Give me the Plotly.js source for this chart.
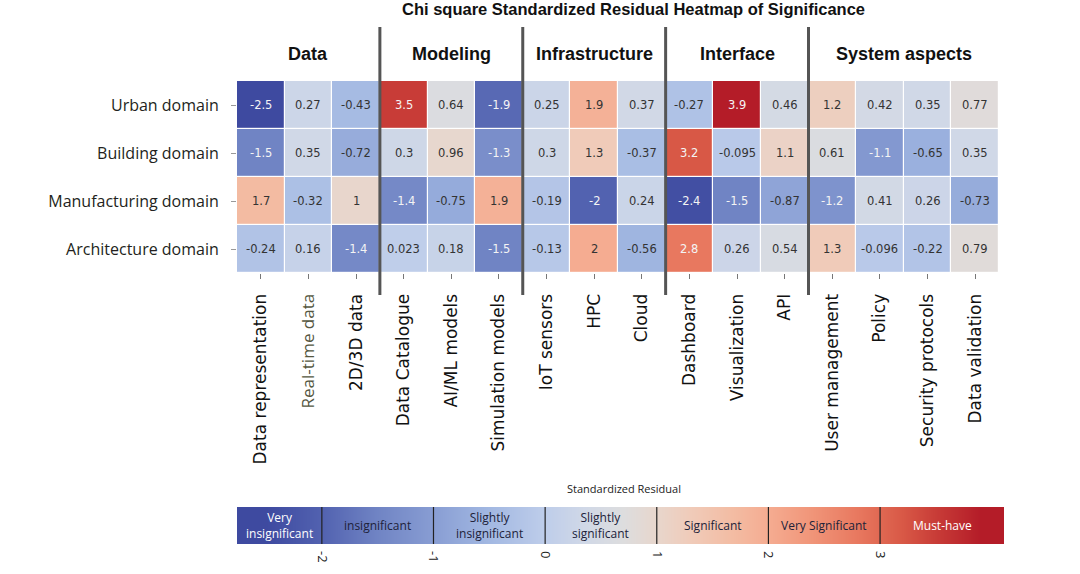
<!DOCTYPE html>
<html><head><meta charset="utf-8">
<script src="https://cdn.plot.ly/plotly-3.0.1.min.js"></script>
<style>html,body{margin:0;padding:0;background:#fff}</style>
</head><body><div id="chart" style="width:1080px;height:574px"></div>
<script>
// ---- data ----
const features = ["Data representation","Real-time data","2D/3D data","Data Catalogue","AI/ML models","Simulation models","IoT sensors","HPC","Cloud","Dashboard","Visualization","API","User management","Policy","Security protocols","Data validation"];
const domains = ["Urban domain","Building domain","Manufacturing domain","Architecture domain"];
const urban = [-2.5,0.27,-0.43,3.5,0.64,-1.9,0.25,1.9,0.37,-0.27,3.9,0.46,1.2,0.42,0.35,0.77];
const building = [-1.5,0.35,-0.72,0.3,0.96,-1.3,0.3,1.3,-0.37,3.2,-0.095,1.1,0.61,-1.1,-0.65,0.35];
const manufacturing = [1.7,-0.32,1,-1.4,-0.75,1.9,-0.19,-2,0.24,-2.4,-1.5,-0.87,-1.2,0.41,0.26,-0.73];
const architecture = [-0.24,0.16,-1.4,0.023,0.18,-1.5,-0.13,2,-0.56,2.8,0.26,0.54,1.3,-0.096,-0.22,0.79];
const groups = ["Data","Modeling","Infrastructure","Interface","System aspects"];
const groupSizes = [3,3,3,3,4];
const cbTicks = [-2,-1,0,1,2,3];
const cbRange = [-2.76,4.11];
const bandLabels = ["Very<br>insignificant","insignificant","Slightly<br>insignificant","Slightly<br>significant","Significant","Very Significant","Must-have"];
const bandWhite = [true,false,false,false,false,false,true];

// ---- styling ----
const rows = [urban, building, manufacturing, architecture];
const allVals = rows.flat();
const zmin = Math.min(...allVals), zmax = Math.max(...allVals);
// muted coolwarm, as printed in the reference
const cw = [[0,'rgb(62,74,160)'],[0.078,'rgb(82,98,176)'],[0.156,'rgb(112,132,196)'],[0.234,'rgb(136,157,211)'],
  [0.3125,'rgb(162,184,226)'],[0.39,'rgb(190,205,234)'],[0.445,'rgb(208,216,231)'],[0.5,'rgb(221,221,222)'],
  [0.547,'rgb(232,214,204)'],[0.594,'rgb(240,203,185)'],[0.656,'rgb(243,187,162)'],[0.703,'rgb(245,172,145)'],
  [0.766,'rgb(240,148,120)'],[0.828,'rgb(232,120,95)'],[0.891,'rgb(216,88,70)'],[0.9375,'rgb(200,60,55)'],[1,'rgb(180,28,40)']];
const W = 1080, H = 574;
const px = v => v / W, py = v => 1 - v / H;

const tickText = features.map(f => f === "Real-time data"
  ? '<span style="font-family:Open Sans;color:#55573f">' + f + '</span>' : f);

const traces = [{
  type: 'heatmap', x: features, y: domains, z: rows,
  colorscale: cw, zmin: zmin, zmax: zmax, showscale: false,
  xgap: 1.2, ygap: 1.2, hoverinfo: 'skip', xaxis: 'x', yaxis: 'y'
}];
const cbStops = [cbRange[0], ...cbTicks, cbRange[1]];
traces.push({
  type: 'heatmap', x: cbStops, y: [0,1], z: [cbStops, cbStops],
  zsmooth: 'best', colorscale: cw, zmin: zmin, zmax: zmax,
  showscale: false, hoverinfo: 'skip', xaxis: 'x2', yaxis: 'y2'
});

const annotations = [];
rows.forEach((r, i) => r.forEach((v, j) => {
  const white = v <= -1.1 || v >= 2.5;
  annotations.push({x: features[j], y: domains[i], xref: 'x', yref: 'y', text: String(v),
    showarrow: false, font: {family: 'DejaVu Sans', size: 11.5, color: white ? '#f4f4f4' : '#333333'}});
}));
// group headers + separators
const shapes = [];
let start = 0;
groups.forEach((g, k) => {
  const center = start + (groupSizes[k] - 1) / 2;
  annotations.push({x: center, y: py(54), xref: 'x', yref: 'paper', text: '<b>' + g + '</b>',
    showarrow: false, yanchor: 'middle', font: {family: 'Liberation Sans', size: 18, color: '#111'}});
  start += groupSizes[k];
  if (k < groups.length - 1) {
    shapes.push({type: 'line', xref: 'x', yref: 'paper', x0: start - 0.5, x1: start - 0.5,
      y0: py(295), y1: py(27), line: {color: '#555', width: 3}, layer: 'above'});
  }
});
// title
annotations.push({x: px(633), y: py(9), xref: 'paper', yref: 'paper', text: '<b>Chi square Standardized Residual Heatmap of Significance</b>',
  showarrow: false, yanchor: 'middle', font: {family: 'Liberation Sans', size: 16.5, color: '#111'}});
// colorbar title
annotations.push({x: px(624), y: py(488), xref: 'paper', yref: 'paper', text: 'Standardized Residual',
  showarrow: false, yanchor: 'middle', font: {family: 'Open Sans', size: 11, color: '#222'}});
// band labels and dividers
const edges = [cbRange[0], ...cbTicks, cbRange[1]];
bandLabels.forEach((t, k) => {
  annotations.push({x: (edges[k] + edges[k+1]) / 2, y: 0.5, xref: 'x2', yref: 'y2', text: t,
    showarrow: false, font: {family: 'Open Sans', size: 12, color: bandWhite[k] ? '#ffffff' : '#20223a'}});
});
cbTicks.forEach(v => shapes.push({type: 'line', xref: 'x2', yref: 'y2', x0: v, x1: v, y0: -0.17, y1: 1.05,
  line: {color: '#222', width: 1.2}, layer: 'above'}));

const layout = {
  width: W, height: H, margin: {l: 0, r: 0, t: 0, b: 0},
  paper_bgcolor: '#fff', plot_bgcolor: '#fff', showlegend: false,
  xaxis: {domain: [px(237), px(999)], anchor: 'y', type: 'category', tickvals: features, ticktext: tickText,
    tickangle: -90, ticks: 'outside', ticklen: 5, tickcolor: '#777', showgrid: false, zeroline: false,
    showline: false, automargin: false, ticklabelstandoff: 8,
    tickfont: {family: 'DejaVu Sans', size: 17, color: '#111'}},
  yaxis: {domain: [py(273), py(81)], anchor: 'x', type: 'category', autorange: 'reversed',
    ticks: 'outside', ticklen: 5, tickcolor: '#999', showgrid: false, zeroline: false, showline: false,
    automargin: false, ticklabelstandoff: 9,
    tickfont: {family: 'Open Sans', size: 16, color: '#231f20'}},
  xaxis2: {domain: [px(237), px(1004)], anchor: 'y2', range: cbRange, tickvals: cbTicks,
    ticktext: cbTicks.map(String), tickangle: 90, ticks: '', showgrid: false, zeroline: false,
    showline: false, automargin: false, ticklabelstandoff: 6,
    tickfont: {family: 'Open Sans', size: 13, color: '#222'}},
  yaxis2: {domain: [py(544), py(507)], anchor: 'x2', range: [0, 1], visible: false, fixedrange: true},
  annotations: annotations, shapes: shapes
};
Plotly.newPlot('chart', traces, layout, {displayModeBar: false, staticPlot: true});
</script></body></html>
